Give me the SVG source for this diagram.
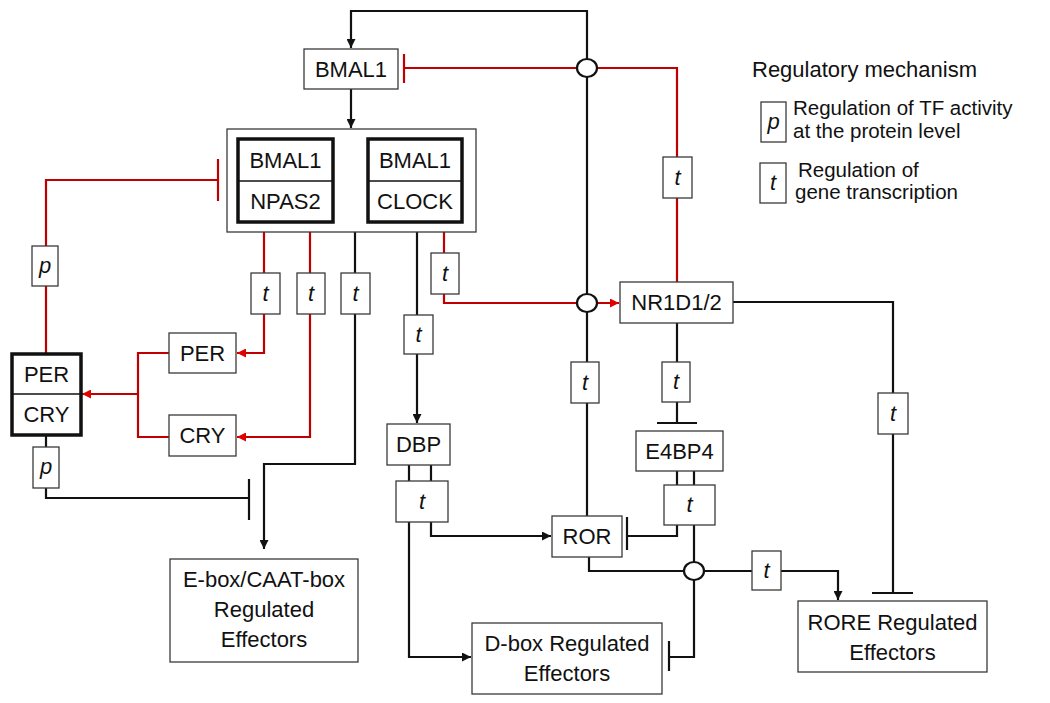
<svg xmlns="http://www.w3.org/2000/svg" width="1050" height="703" viewBox="0 0 1050 703">
<defs>
<style>
text{font-family:"Liberation Sans",Arial,sans-serif;font-size:22px;fill:#111;text-anchor:middle}
.lg{text-anchor:start}
.lgs{text-anchor:start;font-size:20.5px}
.it{font-style:italic}
.box{fill:#fff;stroke:#3a3a3a;stroke-width:1.3}
.thick{fill:#fff;stroke:#111;stroke-width:3.5}
.k{fill:none;stroke:#111;stroke-width:2.2}
.r{fill:none;stroke:#c00000;stroke-width:2.2}
.node-circ{fill:#fff;stroke:#111;stroke-width:2.2}
</style>
<marker id="ak" viewBox="0 0 10 10" refX="10" refY="5" markerWidth="9" markerHeight="9" markerUnits="userSpaceOnUse" orient="auto"><path d="M0,0 L10,5 L0,10 z" fill="#111"/></marker>
<marker id="ar" viewBox="0 0 10 10" refX="10" refY="5" markerWidth="9" markerHeight="9" markerUnits="userSpaceOnUse" orient="auto"><path d="M0,0 L10,5 L0,10 z" fill="#e00000"/></marker>
</defs>

<g id="connectors">
<path class="k" d="M587,516 V11 H351 V48" marker-end="url(#ak)"/>
<path class="k" d="M351,89 V128" marker-end="url(#ak)"/>
<path class="r" d="M677,282 V68 H405"/>
<path class="r" d="M404,54 V83"/>
<path class="r" d="M46,354 V180 H218"/>
<path class="r" d="M218,159 V201"/>
<path class="r" d="M264,232 V353 H237" marker-end="url(#ar)"/>
<path class="r" d="M310,232 V437 H237" marker-end="url(#ar)"/>
<path class="r" d="M169,353 H138 V437 H169"/>
<path class="r" d="M138,394 H82" marker-end="url(#ar)"/>
<path class="k" d="M355,232 V464 H264 V549" marker-end="url(#ak)"/>
<path class="k" d="M46,435 V498 H249"/>
<path class="k" d="M249,479 V520"/>
<path class="k" d="M417,232 V423" marker-end="url(#ak)"/>
<path class="r" d="M444,232 V303 H619" marker-end="url(#ar)"/>
<path class="k" d="M409,465 V481 M431,465 V481"/>
<path class="k" d="M431,522 V536 H551" marker-end="url(#ak)"/>
<path class="k" d="M409,522 V657 H471" marker-end="url(#ak)"/>
<path class="k" d="M677,323 V423"/>
<path class="k" d="M657,423 H697"/>
<path class="k" d="M733,302 H893 V593"/>
<path class="k" d="M872,593 H913"/>
<path class="k" d="M677,471 V485 M694,471 V485"/>
<path class="k" d="M677,525 V536 H627"/>
<path class="k" d="M627,517 V550"/>
<path class="k" d="M694,525 V657 H669"/>
<path class="k" d="M669,641 V671"/>
<path class="k" d="M589,557 V571 H838 V600" marker-end="url(#ak)"/>
<ellipse class="node-circ" cx="587" cy="68" rx="10" ry="9"/>
<ellipse class="node-circ" cx="587" cy="303" rx="10" ry="9"/>
<ellipse class="node-circ" cx="694" cy="571" rx="10" ry="9"/>
<g id="labels">
<rect class="box" x="663" y="157" width="29" height="41"/><text class="it" x="677.5" y="185">t</text>
<rect class="box" x="32" y="246" width="26" height="40"/><text class="it" x="45" y="273">p</text>
<rect class="box" x="33" y="447" width="26" height="41"/><text class="it" x="46" y="474">p</text>
<rect class="box" x="251" y="273" width="29" height="41"/><text class="it" x="265.5" y="301">t</text>
<rect class="box" x="297" y="273" width="28" height="41"/><text class="it" x="311" y="301">t</text>
<rect class="box" x="341" y="273" width="29" height="41"/><text class="it" x="355.5" y="301">t</text>
<rect class="box" x="431" y="253" width="28" height="41"/><text class="it" x="445" y="281">t</text>
<rect class="box" x="404" y="315" width="29" height="39"/><text class="it" x="418.5" y="342">t</text>
<rect class="box" x="571" y="362" width="28" height="41"/><text class="it" x="585" y="390">t</text>
<rect class="box" x="662" y="362" width="28" height="40"/><text class="it" x="676" y="389">t</text>
<rect class="box" x="878" y="393" width="30" height="41"/><text class="it" x="893" y="421">t</text>
<rect class="box" x="396" y="481" width="52" height="41"/><text class="it" x="422" y="509">t</text>
<rect class="box" x="664" y="485" width="51" height="40"/><text class="it" x="689.5" y="512">t</text>
<rect class="box" x="752" y="551" width="29" height="39"/><text class="it" x="766.5" y="578">t</text>
</g>
</g>

<g id="BMAL1">
<rect class="box" x="304" y="49" width="94" height="40"/>
<text x="351" y="77">BMAL1</text>
</g>

<g id="complex">
<rect class="box" x="227" y="129" width="249" height="103"/>
<rect class="thick" x="238" y="139" width="95" height="83"/>
<line x1="238" y1="181" x2="333" y2="181" stroke="#111" stroke-width="1.3"/>
<text x="285.5" y="168">BMAL1</text>
<text x="285.5" y="209">NPAS2</text>
<rect class="thick" x="368" y="139" width="94" height="83"/>
<line x1="368" y1="181" x2="462" y2="181" stroke="#111" stroke-width="1.3"/>
<text x="415" y="168">BMAL1</text>
<text x="415" y="209">CLOCK</text>
</g>

<g id="PERCRY">
<rect class="thick" x="12" y="354" width="69" height="81"/>
<line x1="12" y1="394" x2="81" y2="394" stroke="#111" stroke-width="1.3"/>
<text x="46.5" y="382">PER</text>
<text x="46.5" y="422">CRY</text>
</g>

<g id="PER">
<rect class="box" x="169" y="333" width="67" height="40"/>
<text x="202.5" y="361">PER</text>
</g>

<g id="CRY">
<rect class="box" x="169" y="415" width="67" height="41"/>
<text x="202.5" y="443">CRY</text>
</g>

<g id="NR1D1">
<rect class="box" x="620" y="282" width="113" height="41"/>
<text x="676.5" y="310">NR1D1/2</text>
</g>

<g id="DBP">
<rect class="box" x="387" y="424" width="63" height="41"/>
<text x="418.5" y="452">DBP</text>
</g>

<g id="E4BP4">
<rect class="box" x="636" y="431" width="87" height="40"/>
<text x="679.5" y="459">E4BP4</text>
</g>

<g id="ROR">
<rect class="box" x="552" y="516" width="70" height="41"/>
<text x="587" y="544">ROR</text>
</g>

<g id="Ebox">
<rect class="box" x="170" y="559" width="188" height="103"/>
<text x="264" y="587">E-box/CAAT-box</text>
<text x="264" y="617">Regulated</text>
<text x="264" y="647">Effectors</text>
</g>

<g id="Dbox">
<rect class="box" x="472" y="623" width="190" height="71"/>
<text x="567" y="651">D-box Regulated</text>
<text x="567" y="681">Effectors</text>
</g>

<g id="RORE">
<rect class="box" x="798" y="601" width="189" height="71"/>
<text x="892.5" y="630">RORE Regulated</text>
<text x="892.5" y="660">Effectors</text>
</g>

<g id="legend">
<text class="lg" x="752" y="77">Regulatory mechanism</text>
<rect class="box" x="761" y="102" width="25" height="40"/>
<text class="it" x="773.5" y="129">p</text>
<text class="lgs" x="793" y="115">Regulation of TF activity</text>
<text class="lgs" x="793" y="138">at the protein level</text>
<rect class="box" x="760" y="163" width="26" height="40"/>
<text class="it" x="773" y="190">t</text>
<text class="lgs" x="798" y="177">Regulation of</text>
<text class="lgs" x="795" y="199">gene transcription</text>
</g>
</svg>
